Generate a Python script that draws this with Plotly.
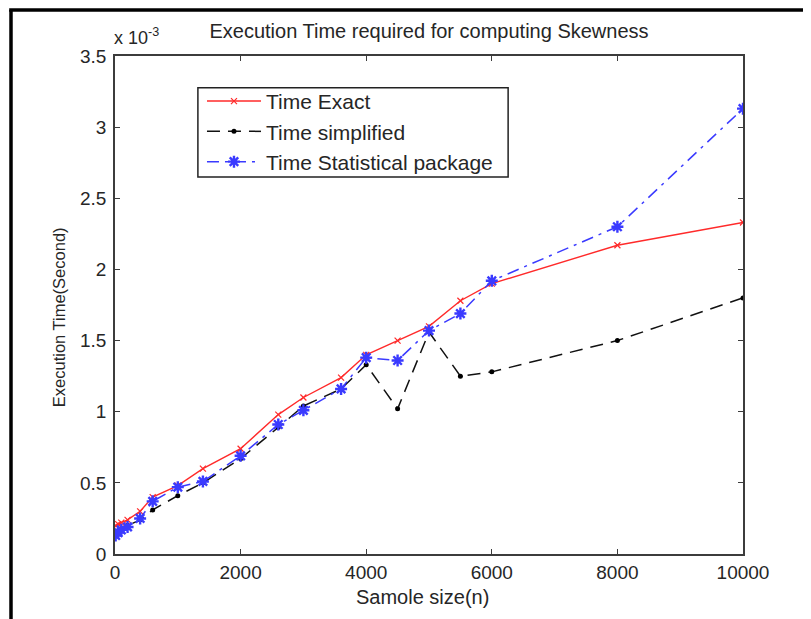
import plotly.graph_objects as go

# sample sizes
sample_size = [10, 50, 100, 200, 400, 600, 1000, 1400, 2000, 2600, 3000, 3600,
               4000, 4500, 5000, 5500, 6000, 8000, 10000]
# execution times in units of 1e-3 seconds
time_exact = [0.20, 0.21, 0.22, 0.24, 0.30, 0.40, 0.48, 0.60, 0.74, 0.98, 1.10, 1.24,
              1.40, 1.50, 1.60, 1.78, 1.90, 2.17, 2.33]
time_simplified = [0.13, 0.15, 0.17, 0.20, 0.24, 0.31, 0.41, 0.50, 0.67, 0.89, 1.04, 1.16,
                   1.33, 1.02, 1.56, 1.25, 1.28, 1.50, 1.80]
time_package = [0.13, 0.15, 0.17, 0.19, 0.25, 0.37, 0.47, 0.51, 0.69, 0.91, 1.01, 1.16,
                1.38, 1.36, 1.57, 1.69, 1.92, 2.30, 3.13]

x_ticks = [0, 2000, 4000, 6000, 8000, 10000]
x_tick_text = ["0", "2000", "4000", "6000", "8000", "10000"]
y_ticks = [0, 0.5, 1, 1.5, 2, 2.5, 3, 3.5]
y_tick_text = ["0", "0.5", "1", "1.5", "2", "2.5", "3", "3.5"]

FONT = "Liberation Sans, Arial, sans-serif"
TXT = "#262626"

fig = go.Figure()
fig.add_trace(go.Scatter(
    x=sample_size, y=time_exact, name="Time Exact", mode="lines+markers",
    line=dict(color="#ff2a2a", width=1.4),
    marker=dict(symbol="x-thin-open", size=6, line=dict(color="#ff0000", width=1.2))))
fig.add_trace(go.Scatter(
    x=sample_size, y=time_simplified, name="Time simplified", mode="lines+markers",
    line=dict(color="#111111", width=1.5, dash="13px,8px"),
    marker=dict(symbol="circle", size=5, color="#000000")))
fig.add_trace(go.Scatter(
    x=sample_size, y=time_package, name="Time Statistical package", mode="lines+markers",
    line=dict(color="#3a3aff", width=1.5, dash="12px,6px,3px,6px"),
    marker=dict(symbol="asterisk-open", size=10, line=dict(color="#0000ff", width=2.4))))

axis_common = dict(showgrid=False, zeroline=False, showline=True, linecolor="#3c3c3c",
                   linewidth=1.5, mirror="ticks", ticks="inside", ticklen=5,
                   tickcolor="#3c3c3c", tickwidth=1.2,
                   tickfont=dict(family=FONT, size=19, color=TXT))

fig.update_xaxes(range=[0, 10000], tickvals=x_ticks, ticktext=x_tick_text, **axis_common)
fig.update_yaxes(range=[0, 3.5], tickvals=y_ticks, ticktext=y_tick_text,
                 ticklabelstandoff=3, **axis_common)

fig.update_layout(
    width=811, height=619,
    margin=dict(l=107, r=76, t=48, b=73, autoexpand=False),
    paper_bgcolor="white", plot_bgcolor="white",
    font=dict(family=FONT, size=19, color=TXT),
    showlegend=True,
    legend=dict(x=0.1385, y=0.950, xanchor="left", yanchor="top",
                bgcolor="rgba(0,0,0,0)", borderwidth=0, itemwidth=54,
                font=dict(family=FONT, size=21, color=TXT)),
    title=dict(text="Execution Time required for computing Skewness",
               x=0.5, xref="paper", y=1 - 23 / 619, yref="container",
               xanchor="center", yanchor="middle",
               font=dict(family=FONT, size=20, color=TXT)),
)

# legend box
fig.add_shape(type="rect", xref="paper", yref="paper",
              x0=0.132, x1=0.626, y0=0.757, y1=0.936,
              fillcolor="white", line=dict(color="#222222", width=1.5), layer="above")

fig.add_annotation(text="x 10<sup>-3</sup>", xref="paper", yref="paper",
                   x=-0.004, y=1.013, xanchor="left", yanchor="bottom",
                   showarrow=False, font=dict(family=FONT, size=18, color=TXT))
fig.add_annotation(text="Samole size(n)", xref="paper", yref="paper",
                   x=0.49, y=-0.087, xanchor="center", yanchor="middle",
                   showarrow=False, font=dict(family=FONT, size=20, color=TXT))
fig.add_annotation(text="Execution Time(Second)", xref="paper", yref="paper",
                   x=-0.088, y=0.475, xanchor="center", yanchor="middle", textangle=-90,
                   showarrow=False, font=dict(family=FONT, size=16.5, color=TXT))

# outer black frame (left and top edges)
fig.add_shape(type="line", xref="paper", yref="paper",
              x0=-0.1656, x1=-0.1656, y0=-0.2, y1=1.0924,
              line=dict(color="black", width=3.5))
fig.add_shape(type="line", xref="paper", yref="paper",
              x0=-0.1685, x1=1.2, y0=1.0924, y1=1.0924,
              line=dict(color="black", width=3.5))

fig.write_html("out.html")
